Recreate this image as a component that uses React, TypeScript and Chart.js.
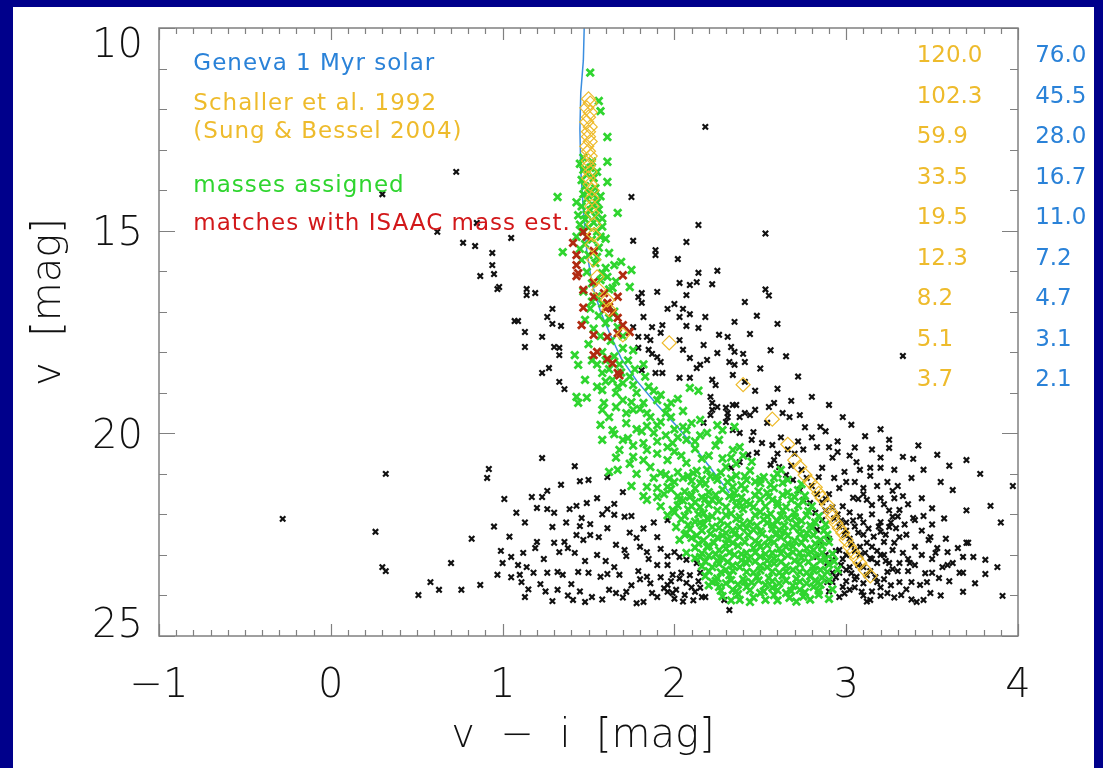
import React, { useEffect, useRef } from "react";
import { Chart, registerables } from "chart.js";

Chart.register(...registerables);

// ---------- axis ranges / tick labels ----------
const xMin = -1;
const xMax = 4;
const yMin = 10;
const yMax = 25;
const xTickValues = [-1, 0, 1, 2, 3, 4];
const xTickLabels = ["\u22121", "0", "1", "2", "3", "4"];
const yTickValues = [10, 15, 20, 25];
const yTickLabels = ["10", "15", "20", "25"];

// ---------- annotation texts ----------
const legendTexts = [
  "Geneva 1 Myr solar",
  "Schaller et al. 1992",
  "(Sung & Bessel 2004)",
  "masses assigned",
  "matches with ISAAC mass est.",
];
const schallerMasses = ["120.0", "102.3", "59.9", "33.5", "19.5", "12.3", "8.2", "5.1", "3.7"];
const genevaMasses = ["76.0", "45.5", "28.0", "16.7", "11.0", "7.2", "4.7", "3.1", "2.1"];

// ---------- Geneva 1 Myr isochrone (v-i, v) ----------
const genevaLine: [number, number][] = [
  [1.475, 10.0], [1.47, 10.8], [1.455, 11.6], [1.45, 12.5], [1.455, 13.5], [1.47, 14.5],
  [1.49, 15.5], [1.52, 16.3], [1.57, 17.0], [1.63, 17.6], [1.69, 18.15], [1.78, 18.7],
  [1.9, 19.3], [2.02, 19.85], [2.12, 20.36], [2.2, 20.8], [2.32, 21.47],
];

// ---------- Schaller et al. 1992 isochrone points ----------
const schallerPts: [number, number][] = [
  [1.5, 11.75], [1.51, 11.85], [1.49, 11.97], [1.51, 12.08], [1.5, 12.2], [1.49, 12.32],
  [1.51, 12.44], [1.5, 12.56], [1.5, 12.68], [1.51, 12.8], [1.49, 12.92], [1.5, 13.04],
  [1.51, 13.16], [1.5, 13.28], [1.5, 13.4], [1.51, 13.55], [1.5, 13.7], [1.51, 13.85],
  [1.52, 14.0], [1.52, 14.2], [1.52, 14.4], [1.52, 14.56], [1.53, 14.85], [1.53, 15.1],
  [1.52, 15.35], [1.53, 15.72], [1.55, 16.14], [1.56, 16.46], [1.61, 16.71], [1.62, 16.95],
  [1.7, 17.57], [1.97, 17.77], [2.4, 18.8], [2.57, 19.65], [2.66, 20.27], [2.7, 20.66],
  [2.73, 20.83], [2.76, 21.03], [2.79, 21.2], [2.82, 21.33], [2.84, 21.48], [2.86, 21.6],
  [2.89, 21.77], [2.91, 21.94], [2.92, 22.06], [2.94, 22.21], [2.96, 22.34], [2.98, 22.46],
  [3.0, 22.63], [3.02, 22.8], [3.04, 22.93], [3.06, 23.08], [3.08, 23.2], [3.11, 23.37],
  [3.14, 23.52],
];

// ---------- stars with matching ISAAC mass estimates ----------
const isaacMatches: [number, number][] = [
  [1.47, 15.03], [1.49, 15.15], [1.41, 15.3], [1.53, 15.5], [1.43, 15.6], [1.43, 15.85],
  [1.44, 16.05], [1.43, 16.12], [1.7, 16.1], [1.53, 16.27], [1.47, 16.46], [1.59, 16.54],
  [1.53, 16.63], [1.67, 16.63], [1.61, 16.78], [1.62, 16.88], [1.6, 16.92], [1.47, 16.9],
  [1.64, 17.03], [1.67, 17.15], [1.46, 17.33], [1.7, 17.33], [1.74, 17.5], [1.53, 17.57],
  [1.61, 17.62], [1.67, 17.53], [1.55, 17.99], [1.53, 18.07], [1.61, 18.17], [1.64, 18.27],
  [1.67, 18.51], [1.68, 18.57],
];

// ---------- stars with masses assigned ----------
const assignedStars: [number, number][] = [
  [1.51, 11.1], [1.56, 11.8], [1.57, 12.05], [1.61, 12.69], [1.61, 13.3], [1.61, 13.8],
  [1.45, 13.35], [1.47, 13.5], [1.49, 13.62], [1.51, 13.45], [1.53, 13.7], [1.48, 13.9],
  [1.5, 14.02], [1.53, 14.12], [1.55, 14.3], [1.49, 14.22], [1.46, 14.4], [1.51, 14.5],
  [1.56, 14.48], [1.44, 14.62], [1.48, 14.72], [1.53, 14.8], [1.5, 14.92], [1.46, 15.02],
  [1.55, 15.02], [1.58, 14.7], [1.32, 14.17], [1.67, 14.56], [1.57, 15.15], [1.52, 15.22],
  [1.48, 15.33], [1.56, 15.42], [1.35, 15.53], [1.5, 15.6], [1.46, 15.72], [1.54, 15.8],
  [1.69, 15.77], [1.65, 15.85], [1.6, 15.92], [1.75, 15.97], [1.49, 16.02], [1.61, 16.14],
  [1.57, 16.22], [1.52, 16.3], [1.74, 16.39], [1.64, 16.41], [1.47, 16.5], [1.55, 16.62],
  [1.62, 16.45], [1.58, 16.8], [1.51, 16.92], [1.65, 17.0], [1.56, 17.1], [1.48, 17.2],
  [1.6, 17.28], [1.53, 17.42], [1.67, 17.38], [1.57, 17.6], [1.63, 17.72], [1.5, 17.8],
  [1.7, 17.9], [1.58, 18.0], [1.42, 18.07], [1.65, 18.1], [1.73, 18.2], [1.55, 18.3],
  [1.44, 18.31], [1.62, 18.42], [1.58, 18.51], [1.69, 18.5], [1.77, 18.42], [1.48, 18.68],
  [1.64, 18.68], [1.7, 18.76], [1.76, 18.81], [1.6, 18.72], [1.67, 18.85], [1.58, 18.93],
  [1.78, 19.0], [1.66, 19.0], [2.09, 18.88], [2.14, 18.95], [1.43, 19.1], [1.49, 19.12],
  [1.7, 19.18], [1.75, 19.23], [1.82, 19.25], [1.9, 19.18], [1.59, 19.25], [1.44, 19.25],
  [1.96, 19.35], [1.58, 19.42], [1.76, 19.42], [1.72, 19.5], [1.86, 19.6], [1.98, 19.6],
  [2.15, 19.67], [1.92, 19.72], [1.57, 19.79], [2.05, 19.84], [2.35, 19.84], [2.28, 19.92],
  [1.64, 19.92], [1.78, 19.9], [1.81, 19.95], [2.07, 19.92], [1.88, 19.99], [1.65, 20.02],
  [2.19, 19.99], [2.07, 20.16], [1.58, 20.16], [1.7, 20.16], [1.73, 20.12], [2.26, 20.16],
  [1.82, 20.24], [1.99, 20.24], [1.96, 20.34], [2.38, 20.34], [1.68, 20.41], [1.84, 20.41],
  [2.34, 20.41], [1.76, 20.58], [1.82, 20.66], [1.96, 20.66], [2.07, 20.73], [2.3, 20.83],
  [1.86, 20.83], [1.67, 20.9], [1.62, 20.95], [2.19, 20.9], [1.92, 20.98], [2.11, 20.98],
  [2.25, 21.15], [2.42, 21.15], [2.15, 21.23], [2.5, 21.23], [1.84, 21.32], [1.96, 21.32],
  [2.34, 21.32], [2.54, 21.47], [1.9, 21.57], [1.82, 21.55], [2.09, 21.57], [2.03, 21.64],
  [1.84, 21.64], [2.22, 21.64], [2.57, 21.64], [2.38, 21.72], [2.15, 21.82], [2.3, 21.82],
  [2.46, 21.82], [2.65, 21.82], [1.99, 21.89], [2.15, 22.21], [2.54, 22.21], [2.01, 22.31],
  [2.22, 22.31], [2.38, 22.31], [2.69, 22.31], [2.46, 22.38], [2.61, 22.38], [2.07, 22.46],
  [2.3, 22.46], [2.77, 22.46], [2.03, 22.63], [2.34, 22.7], [2.19, 22.8], [2.5, 22.8],
  [2.65, 22.8], [2.26, 22.88], [2.81, 22.88], [2.07, 22.95], [2.42, 22.95], [2.57, 22.95],
  [2.73, 22.95], [2.15, 23.05], [2.22, 23.3], [2.38, 23.3], [2.54, 23.3], [2.3, 23.37],
  [2.69, 23.37], [2.85, 23.37], [2.46, 23.44], [2.61, 23.44], [2.77, 23.44], [2.22, 23.67],
  [2.26, 23.79], [2.42, 23.79], [2.57, 23.81], [2.81, 23.79], [2.34, 23.86], [2.73, 23.86],
  [2.5, 23.94], [2.65, 23.94], [2.67, 24.06], [2.38, 24.11], [2.53, 24.11],
  [1.95, 21.02], [2.02, 20.96], [2.08, 21.05], [2.13, 20.93], [2.21, 21.06], [2.27, 20.97],
  [2.36, 21.04], [2.44, 20.92], [2.52, 21.08], [2.6, 21.0],
  [1.98, 21.38], [2.06, 21.44], [2.12, 21.36], [2.2, 21.45], [2.28, 21.39], [2.35, 21.48],
  [2.41, 21.37], [2.49, 21.43], [2.58, 21.35], [2.66, 21.46], [2.72, 21.4],
  [2.0, 21.95], [2.08, 21.88], [2.17, 21.97], [2.25, 21.9], [2.33, 21.98], [2.4, 21.87],
  [2.5, 21.94], [2.56, 21.99], [2.63, 21.9], [2.7, 21.96], [2.78, 21.92],
  [2.04, 22.12], [2.12, 22.18], [2.19, 22.1], [2.27, 22.16], [2.36, 22.11], [2.44, 22.19],
  [2.52, 22.13], [2.6, 22.17], [2.66, 22.1], [2.74, 22.16], [2.82, 22.2],
  [2.1, 22.58], [2.17, 22.64], [2.25, 22.57], [2.31, 22.62], [2.38, 22.55], [2.47, 22.66],
  [2.55, 22.6], [2.62, 22.56], [2.7, 22.65], [2.76, 22.59], [2.85, 22.63],
  [2.12, 23.08], [2.2, 23.02], [2.28, 23.07], [2.35, 23.0], [2.43, 23.1], [2.5, 23.04],
  [2.58, 23.09], [2.66, 23.01], [2.74, 23.07], [2.82, 23.03], [2.88, 23.1],
  [2.18, 23.52], [2.25, 23.58], [2.32, 23.5], [2.4, 23.6], [2.48, 23.54], [2.55, 23.57],
  [2.63, 23.51], [2.71, 23.59], [2.79, 23.53], [2.86, 23.56],
  [2.28, 24.02], [2.37, 23.97], [2.46, 24.05], [2.58, 23.99], [2.75, 24.03], [2.84, 23.98],
  [2.0, 21.2], [2.1, 21.18], [2.18, 21.25], [2.31, 21.2], [2.39, 21.28], [2.47, 21.19],
  [2.56, 21.27], [2.63, 21.22],
  [2.05, 21.66], [2.12, 21.7], [2.18, 21.62], [2.26, 21.68], [2.34, 21.61], [2.42, 21.69],
  [2.5, 21.63], [2.6, 21.7], [2.68, 21.64], [2.75, 21.68],
  [2.09, 22.36], [2.16, 22.4], [2.26, 22.33], [2.34, 22.39], [2.42, 22.34], [2.5, 22.42],
  [2.57, 22.35], [2.64, 22.41], [2.73, 22.36], [2.8, 22.33], [2.87, 22.4],
  [2.12, 22.82], [2.2, 22.78], [2.3, 22.84], [2.37, 22.77], [2.46, 22.83], [2.54, 22.76],
  [2.61, 22.85], [2.69, 22.79], [2.77, 22.84], [2.86, 22.78],
  [2.16, 23.28], [2.26, 23.22], [2.34, 23.26], [2.42, 23.2], [2.5, 23.27], [2.58, 23.21],
  [2.65, 23.28], [2.73, 23.23], [2.81, 23.29], [2.9, 23.24],
  [2.2, 23.75], [2.3, 23.7], [2.37, 23.73], [2.45, 23.68], [2.53, 23.74], [2.61, 23.7],
  [2.69, 23.76], [2.77, 23.7], [2.85, 23.73],
  [1.66, 20.6], [1.74, 20.75], [1.9, 20.5], [2.0, 20.45], [2.12, 20.38], [2.2, 20.55],
  [2.28, 20.62], [2.45, 20.7], [2.4, 20.55], [1.95, 20.05], [2.02, 20.1], [2.12, 20.2],
  [1.72, 19.75], [1.84, 19.82], [2.0, 19.9], [2.24, 20.3], [1.62, 19.6], [1.55, 18.85],
  [1.52, 18.2], [1.83, 18.6], [1.88, 18.95], [1.8, 19.4], [1.95, 19.5], [2.05, 19.45],
  [1.97, 21.12], [2.05, 21.1], [2.16, 21.14], [2.24, 21.08], [2.33, 21.12], [2.41, 21.06],
  [2.5, 21.13], [2.58, 21.1],
  [1.94, 21.5], [2.02, 21.55], [2.1, 21.52], [2.16, 21.58], [2.24, 21.52], [2.32, 21.55],
  [2.39, 21.58], [2.47, 21.53], [2.55, 21.56], [2.63, 21.52], [2.7, 21.57], [2.76, 21.54],
  [2.02, 21.78], [2.1, 21.8], [2.2, 21.76], [2.36, 21.78], [2.44, 21.75], [2.53, 21.8],
  [2.6, 21.77], [2.72, 21.78], [2.8, 21.8],
  [1.96, 22.02], [2.06, 22.04], [2.14, 22.0], [2.22, 22.05], [2.3, 22.02], [2.38, 22.06],
  [2.47, 22.02], [2.54, 22.05], [2.62, 22.03], [2.7, 22.06], [2.77, 22.02], [2.84, 22.05],
  [2.08, 22.26], [2.17, 22.24], [2.31, 22.27], [2.4, 22.24], [2.48, 22.28], [2.57, 22.25],
  [2.64, 22.27], [2.71, 22.24], [2.79, 22.27], [2.88, 22.25],
  [2.06, 22.5], [2.13, 22.52], [2.21, 22.48], [2.28, 22.52], [2.35, 22.49], [2.43, 22.51],
  [2.51, 22.48], [2.59, 22.5], [2.66, 22.52], [2.73, 22.49], [2.81, 22.51], [2.89, 22.5],
  [2.14, 22.72], [2.23, 22.7], [2.3, 22.72], [2.41, 22.68], [2.49, 22.71], [2.58, 22.69],
  [2.66, 22.72], [2.74, 22.7], [2.82, 22.72], [2.9, 22.68],
  [2.16, 22.96], [2.24, 22.98], [2.32, 22.94], [2.39, 22.98], [2.47, 22.94], [2.53, 22.98],
  [2.62, 22.96], [2.69, 22.93], [2.78, 22.98], [2.86, 22.95], [2.92, 22.97],
  [2.18, 23.16], [2.25, 23.14], [2.31, 23.17], [2.39, 23.13], [2.47, 23.16], [2.54, 23.14],
  [2.62, 23.17], [2.7, 23.14], [2.78, 23.17], [2.85, 23.14], [2.93, 23.16],
  [2.2, 23.4], [2.27, 23.43], [2.34, 23.39], [2.42, 23.42], [2.5, 23.38], [2.57, 23.41],
  [2.65, 23.4], [2.73, 23.42], [2.81, 23.38], [2.89, 23.42], [2.95, 23.36],
  [2.24, 23.64], [2.33, 23.62], [2.41, 23.66], [2.49, 23.63], [2.57, 23.65], [2.65, 23.63],
  [2.73, 23.66], [2.82, 23.63], [2.9, 23.62],
  [2.27, 23.88], [2.36, 23.9], [2.44, 23.87], [2.52, 23.9], [2.6, 23.87], [2.68, 23.89],
  [2.76, 23.92], [2.84, 23.88], [2.92, 23.85],
  [2.33, 24.12], [2.44, 24.16], [2.6, 24.12], [2.71, 24.15], [2.79, 24.1], [2.9, 24.08],
  [1.47, 13.2], [1.52, 13.3], [1.55, 13.55], [1.46, 13.75], [1.54, 13.95], [1.57, 14.15],
  [1.47, 14.1], [1.43, 14.3], [1.52, 14.35], [1.49, 14.6], [1.54, 14.65], [1.45, 14.85],
  [1.58, 14.9], [1.43, 15.15], [1.6, 15.2], [1.45, 15.45], [1.62, 15.55], [1.55, 15.65],
  [1.58, 16.05], [1.66, 16.25], [1.52, 16.75], [1.62, 17.15], [1.7, 17.6], [1.76, 17.95],
  [1.82, 18.3], [1.6, 18.2], [1.68, 18.3], [1.74, 18.6], [1.85, 18.85], [1.92, 19.05],
  [1.98, 19.25], [2.02, 19.15], [1.66, 19.35], [1.84, 19.5], [1.9, 19.8], [2.1, 19.75],
  [2.25, 19.8], [2.15, 20.05], [1.76, 20.3], [1.9, 20.2], [2.04, 20.55], [2.16, 20.62],
  [2.33, 20.6], [2.36, 20.75], [1.78, 21.0], [1.88, 21.1], [1.75, 21.3], [1.9, 21.35],
  [1.92, 21.8], [2.62, 20.9], [2.66, 21.15], [2.74, 21.25],
];

// ---------- all other (field) stars ----------
const fieldStars: [number, number][] = [
  // upper, sparse
  [0.73, 13.55], [0.3, 14.1], [2.18, 12.44], [1.75, 14.17], [0.85, 14.81], [0.62, 15.03],
  [2.53, 15.07], [3.33, 18.09],
  // left diagonal band
  [0.77, 15.3], [0.84, 15.38], [0.94, 15.55], [0.94, 15.85], [0.87, 16.12], [0.95, 16.07],
  [0.98, 16.39], [0.97, 16.44], [1.14, 16.44], [1.14, 16.59], [1.19, 16.54], [1.05, 15.18],
  [1.29, 16.93], [1.26, 17.13], [1.07, 17.23], [1.09, 17.23], [1.13, 17.5], [1.29, 17.3],
  [1.34, 17.35], [1.23, 17.62], [1.13, 17.87], [1.3, 17.87], [1.33, 17.89], [1.33, 18.07],
  [1.27, 18.39], [1.23, 18.51], [1.33, 18.73], [1.36, 18.91],
  // right of the column, upper
  [2.14, 14.86], [2.07, 15.28], [1.76, 15.25], [1.89, 15.48], [1.89, 15.6], [2.02, 15.7],
  [2.14, 16.04], [2.25, 15.99], [2.03, 16.29], [2.09, 16.34], [2.13, 16.27], [2.22, 16.32],
  [1.81, 16.54], [1.9, 16.51], [1.79, 16.64], [2.07, 16.59], [1.81, 16.78], [2.41, 16.76],
  [1.96, 16.93], [2.0, 16.81], [2.05, 16.93], [1.82, 17.13], [2.03, 17.13], [2.09, 17.06],
  [2.18, 17.13], [2.35, 17.25], [1.76, 17.38], [1.87, 17.38], [1.93, 17.33], [2.07, 17.35],
  [2.14, 17.4], [2.26, 17.57], [2.31, 17.62], [1.79, 17.62], [1.84, 17.62], [1.86, 17.7],
  [1.92, 17.52], [1.79, 17.89], [1.85, 17.94], [1.87, 18.04], [1.9, 18.12], [1.92, 18.24],
  [2.03, 17.7], [2.05, 17.94], [2.09, 18.14], [2.17, 17.82], [2.25, 18.02], [2.33, 17.87],
  [2.35, 17.99], [2.4, 18.04], [2.32, 18.24], [2.19, 18.19], [2.15, 18.31], [2.13, 18.39],
  [2.35, 18.31], [2.41, 18.24], [1.81, 18.44], [1.89, 18.51], [1.93, 18.51], [2.03, 18.63],
  [2.09, 18.63], [2.22, 18.68], [2.24, 18.81], [2.34, 18.56], [2.41, 18.73], [2.21, 19.1],
  [2.22, 19.25], [2.25, 19.35], [2.3, 19.37], [2.36, 19.3], [2.31, 19.6], [2.38, 19.6],
  [2.3, 19.72], [2.41, 19.5], [2.34, 19.92], [2.38, 19.99],
  [2.53, 16.45], [2.55, 16.6], [2.48, 17.1], [2.6, 17.3], [2.44, 17.55], [2.56, 17.95],
  [2.65, 18.1], [2.5, 18.4], [2.72, 18.6], [2.6, 18.9], [2.8, 19.1], [2.68, 19.2],
  [2.9, 19.3], [2.47, 18.95], [2.55, 19.35],
  // right cluster
  [2.21, 19.55], [2.31, 19.5], [2.34, 19.3], [2.44, 19.55], [2.47, 19.42], [2.54, 19.74],
  [2.58, 19.25], [2.63, 19.5], [2.67, 19.6], [2.73, 19.55], [2.85, 19.84], [2.98, 19.6],
  [3.03, 19.79], [3.11, 20.07], [3.25, 20.16], [3.25, 20.36], [3.33, 20.58], [3.39, 20.63],
  [3.53, 20.53], [3.7, 20.66], [3.97, 21.3], [3.84, 21.79], [2.83, 20.34], [2.9, 20.34],
  [2.95, 20.46], [3.06, 20.71], [3.14, 20.85], [3.2, 20.85], [2.99, 20.95], [3.24, 21.2],
  [3.27, 21.42], [3.33, 21.55], [3.0, 21.2], [2.96, 21.35], [3.1, 21.35], [3.04, 21.59],
  [3.07, 21.62], [3.12, 21.64], [3.15, 21.77], [3.31, 21.89], [3.4, 22.14], [3.45, 22.04],
  [3.49, 22.56], [3.48, 22.63], [3.53, 22.83], [3.59, 22.93], [3.59, 23.25], [3.65, 22.83],
  [3.68, 23.05], [3.7, 22.7], [3.74, 23.05], [3.68, 23.44], [3.81, 23.12], [3.81, 23.47],
  [3.68, 23.91], [3.91, 24.01], [3.5, 23.44], [3.54, 23.57], [3.47, 23.67], [3.43, 23.74],
  [3.49, 23.94], [3.41, 24.16], [3.45, 24.11], [3.31, 23.67], [3.38, 23.67], [3.32, 23.99],
  [3.24, 23.94], [3.14, 24.11], [3.2, 24.01], [3.09, 23.91], [3.02, 23.86], [2.96, 24.04],
  [3.06, 23.54], [3.18, 23.67], [3.24, 23.42], [3.25, 23.2], [3.31, 23.2], [3.37, 23.2],
  [3.27, 22.88], [3.22, 22.68], [3.31, 22.56], [3.29, 22.34], [3.25, 22.31], [3.2, 22.19],
  [3.27, 22.06], [3.2, 22.43], [3.15, 22.8], [3.14, 23.08], [3.2, 23.0], [2.96, 22.88],
  [2.92, 23.12], [2.89, 23.2], [2.92, 23.44], [2.96, 23.44], [3.0, 23.37], [2.92, 23.67],
  [2.98, 23.79], [2.89, 23.67], [2.83, 23.05], [2.85, 22.7], [2.83, 22.38], [2.86, 22.14],
  [2.82, 21.96], [2.79, 21.72], [2.75, 21.64], [2.73, 21.4], [2.69, 21.15], [2.65, 21.03],
  [2.61, 20.83], [2.58, 20.66], [2.56, 20.78], [2.57, 20.29], [2.51, 20.24], [2.48, 20.48],
  [2.45, 20.16], [2.46, 19.97], [2.43, 20.53], [2.38, 20.71], [2.33, 20.85], [2.22, 19.42],
  [2.17, 19.74], [2.29, 24.11], [2.32, 24.36], [2.15, 23.44], [2.18, 24.04], [3.39, 22.09],
  [3.52, 22.95], [3.66, 23.44], [3.71, 22.7],
  [2.62, 20.1], [2.66, 20.4], [2.7, 20.5], [2.74, 20.9], [2.77, 21.1], [2.8, 21.3],
  [2.83, 21.5], [2.86, 21.7], [2.88, 21.9], [2.93, 22.1], [2.96, 22.3], [2.99, 22.5],
  [3.02, 22.6], [3.05, 22.9], [3.08, 23.0], [3.1, 23.3], [3.12, 23.5], [2.95, 22.0],
  [3.0, 22.2], [3.05, 22.3], [3.1, 22.5], [3.12, 22.7], [2.9, 22.6], [2.94, 22.9],
  [2.98, 23.1], [3.02, 23.3], [3.05, 23.6], [2.88, 23.0], [3.15, 23.9], [3.2, 23.8],
  [3.18, 23.2], [3.22, 23.0], [3.28, 22.7], [3.35, 22.5], [3.4, 22.8], [3.36, 23.1],
  [3.3, 23.4], [2.98, 21.8], [3.02, 21.95], [3.08, 22.05], [3.15, 22.0], [3.2, 21.6],
  [3.25, 21.9], [3.18, 21.3], [2.9, 21.5], [2.68, 20.8], [2.72, 20.2], [2.6, 20.5],
  [2.75, 20.4],
  [2.88, 21.62], [2.92, 21.82], [2.97, 22.15], [3.0, 22.4], [3.04, 22.15], [3.07, 22.45],
  [3.1, 22.2], [3.13, 22.35], [3.16, 22.55], [3.19, 22.3], [3.23, 22.5], [3.26, 22.2],
  [3.03, 22.75], [3.08, 22.8], [3.11, 22.95], [3.15, 23.1], [3.18, 22.9], [3.23, 23.15],
  [3.27, 23.35], [3.33, 22.95], [3.36, 23.4], [3.4, 23.25], [3.44, 23.0], [3.46, 23.45],
  [3.0, 23.0], [2.97, 23.25], [3.03, 23.45], [3.07, 23.25], [3.1, 23.7], [3.14, 23.4],
  [3.17, 23.55], [3.22, 23.6], [3.26, 23.75], [3.28, 24.05], [3.35, 23.85], [3.38, 24.1],
  [3.0, 23.65], [3.05, 23.8], [3.1, 24.0], [3.12, 24.15], [2.94, 23.55], [2.9, 23.9],
  [2.99, 23.95], [3.5, 23.1], [3.56, 23.3], [3.6, 23.65], [3.55, 24.0], [3.62, 23.2],
  [3.75, 23.7], [3.88, 23.3], [3.44, 22.4], [3.5, 22.25], [3.58, 22.6], [3.34, 22.25],
  [3.3, 22.05], [3.36, 21.75], [3.44, 21.6], [3.5, 21.85], [3.57, 22.1], [3.62, 21.4],
  [3.7, 21.9], [3.3, 21.3], [3.38, 21.1], [3.2, 20.6], [3.28, 20.9], [3.45, 20.9],
  [3.55, 21.2], [3.14, 21.05], [3.08, 20.9], [3.02, 20.55], [2.92, 20.6], [2.86, 20.85],
  [2.84, 21.08], [2.93, 21.1], [3.05, 21.2], [3.1, 21.5], [3.22, 21.75], [3.28, 21.6],
  [2.8, 20.1], [2.88, 19.95], [2.95, 20.2], [3.05, 20.35], [3.15, 20.4], [2.76, 19.85],
  [3.2, 19.9], [3.42, 20.3], [3.6, 20.8], [3.78, 21.0], [3.9, 22.2],
  // lower left
  [1.23, 20.61], [1.42, 20.81], [1.45, 21.18], [1.5, 21.15], [1.61, 21.08], [1.34, 21.27],
  [1.01, 21.62], [1.17, 21.57], [1.23, 21.57], [1.26, 21.42], [1.7, 21.45], [1.08, 21.96],
  [1.2, 21.84], [1.26, 21.87], [1.3, 21.96], [1.39, 21.87], [1.43, 21.79], [1.49, 21.72],
  [1.61, 21.87], [1.65, 21.74], [1.65, 22.01], [1.71, 22.06], [1.75, 22.04], [1.46, 22.09],
  [1.51, 22.24], [1.45, 22.29], [1.29, 22.31], [1.61, 22.34], [1.43, 22.51], [1.51, 22.51],
  [1.56, 22.56], [1.96, 22.14], [1.2, 22.68], [1.36, 22.68], [1.47, 22.63], [1.78, 22.58],
  [1.9, 22.56], [1.33, 22.93], [1.38, 22.83], [1.19, 22.83], [1.55, 23.0], [1.71, 22.88],
  [1.72, 23.03], [1.8, 22.8], [1.84, 22.93], [1.09, 23.25], [1.14, 23.3], [1.18, 23.44],
  [1.26, 23.44], [1.32, 23.42], [1.35, 23.49], [1.4, 23.72], [1.44, 23.42], [1.5, 23.44],
  [1.57, 23.54], [1.61, 23.47], [1.65, 23.3], [1.68, 23.49], [1.79, 23.4], [1.84, 23.54],
  [1.9, 23.25], [1.96, 23.03], [2.0, 22.93], [1.96, 23.25], [2.03, 23.05], [2.07, 23.12],
  [2.13, 23.2], [1.99, 23.49], [2.04, 23.44], [2.07, 23.69], [1.96, 23.74], [2.01, 23.86],
  [2.06, 23.99], [2.12, 23.91], [2.16, 24.04], [1.1, 23.49], [1.11, 23.67], [1.22, 23.72],
  [1.32, 23.86], [1.29, 24.14], [1.41, 24.11], [1.48, 24.16], [1.52, 24.04], [1.62, 23.86],
  [1.66, 23.94], [1.72, 23.91], [1.78, 24.19], [1.82, 24.16], [1.87, 23.94], [1.96, 23.91],
  [1.9, 24.04], [2.15, 23.81], [1.99, 23.94], [1.13, 24.04],
  [1.92, 23.55], [1.98, 23.65], [2.03, 23.58], [2.09, 23.5], [2.1, 23.8], [2.14, 23.65],
  [1.94, 23.82], [2.0, 24.08], [2.05, 24.15], [2.11, 24.12], [1.86, 23.7], [1.8, 23.6],
  [1.75, 23.75], [1.7, 24.05], [1.58, 24.1], [1.45, 23.9], [1.38, 24.0], [1.25, 23.9],
  [1.15, 23.85], [1.05, 23.55], [1.0, 23.2], [1.12, 22.95], [1.24, 23.1], [1.3, 22.7],
  [1.42, 22.95], [1.48, 23.15], [1.6, 23.15], [1.66, 22.75], [1.74, 22.45], [1.82, 22.35],
  [1.88, 22.2], [1.58, 22.0], [1.55, 21.6], [1.37, 22.2], [1.13, 22.2], [1.04, 22.55],
  [0.99, 22.9], [1.85, 23.1], [1.92, 22.85],
  // far left
  [-0.28, 22.11], [0.32, 21.0], [0.26, 22.43], [0.3, 23.3], [0.32, 23.4], [0.92, 20.88],
  [0.91, 21.1], [0.58, 23.67], [0.51, 23.99], [0.63, 23.86], [0.76, 23.86], [0.87, 23.74],
  [0.97, 23.49], [1.05, 23.05], [0.82, 22.6], [0.7, 23.2], [0.95, 22.3],
];

const toXY = (arr: [number, number][]) => arr.map(([x, y]) => ({ x, y }));

const NAVY = "#00008b";
const BLUE = "#2a82d8";
const YELLOW = "#eebb2c";
const GREEN = "#2fd52f";
const RED = "#d2181a";
const FONT = '"DejaVu Sans", "Liberation Sans", sans-serif';

const framePlugin = {
  id: "idlFrame",
  beforeDraw(chart: any) {
    const ctx = chart.ctx as CanvasRenderingContext2D;
    ctx.save();
    ctx.fillStyle = NAVY;
    ctx.fillRect(0, 0, chart.width, chart.height);
    ctx.fillStyle = "#ffffff";
    ctx.fillRect(13, 7, 1081, chart.height - 7);
    ctx.restore();
  },
  afterDatasetsDraw(chart: any) {
    const ctx = chart.ctx as CanvasRenderingContext2D;
    const { left, right, top, bottom } = chart.chartArea;
    const xs = chart.scales.x;
    const ys = chart.scales.y;
    ctx.save();
    // box
    ctx.strokeStyle = "#808080";
    ctx.lineWidth = 1.5;
    ctx.strokeRect(left, top, right - left, bottom - top);
    ctx.beginPath();
    // x ticks
    for (let i = 0; i <= 50; i++) {
      const v = xMin + i * 0.1;
      const px = Math.round(xs.getPixelForValue(v)) + 0.5;
      const len = i % 10 === 0 ? 12 : 6;
      ctx.moveTo(px, bottom);
      ctx.lineTo(px, bottom - len);
      ctx.moveTo(px, top);
      ctx.lineTo(px, top + len);
    }
    // y ticks
    for (let v = yMin; v <= yMax; v++) {
      const py = Math.round(ys.getPixelForValue(v)) + 0.5;
      const len = v % 5 === 0 ? 16 : 8;
      ctx.moveTo(left, py);
      ctx.lineTo(left + len, py);
      ctx.moveTo(right, py);
      ctx.lineTo(right - len, py);
    }
    ctx.lineWidth = 1.2;
    ctx.stroke();

    // tick labels
    ctx.fillStyle = "#111";
    ctx.font = `200 40px ${FONT}`;
    ctx.textBaseline = "alphabetic";
    ctx.textAlign = "center";
    xTickValues.forEach((v, i) => {
      ctx.fillText(xTickLabels[i], xs.getPixelForValue(v), bottom + 61);
    });
    ctx.textAlign = "right";
    yTickValues.forEach((v, i) => {
      let py = ys.getPixelForValue(v) + 14.5;
      if (i === 0) py = top + 29;
      if (i === yTickValues.length - 1) py = bottom + 1;
      ctx.fillText(yTickLabels[i], left - 16, py);
    });

    // axis titles
    ctx.textAlign = "center";
    ctx.fillText("v  \u2212  i  [mag]", 583, bottom + 111);
    ctx.save();
    ctx.translate(60, 302);
    ctx.rotate(-Math.PI / 2);
    ctx.fillText("v  [mag]", 0, 0);
    ctx.restore();

    // legend-style annotations inside plot
    ctx.font = `23px ${FONT}`;
    ctx.textAlign = "left";
    (ctx as any).letterSpacing = "1px";
    const legendColors = [BLUE, YELLOW, YELLOW, GREEN, RED];
    const legendY = [11.04, 12.02, 12.71, 14.05, 14.98];
    legendTexts.forEach((t, i) => {
      ctx.fillStyle = legendColors[i];
      ctx.fillText(t, xs.getPixelForValue(-0.8), ys.getPixelForValue(legendY[i]));
    });
    (ctx as any).letterSpacing = "0px";

    // mass columns
    schallerMasses.forEach((t, i) => {
      const py = ys.getPixelForValue(10.84 + i);
      ctx.fillStyle = YELLOW;
      ctx.fillText(t, xs.getPixelForValue(3.41), py);
      ctx.fillStyle = BLUE;
      ctx.fillText(genevaMasses[i], xs.getPixelForValue(4.1), py);
    });
    ctx.restore();
  },
};

export default function App() {
  const canvasRef = useRef<HTMLCanvasElement | null>(null);

  useEffect(() => {
    const canvas = canvasRef.current;
    if (!canvas) return;
    const chart = new Chart(canvas, {
      type: "scatter",
      data: {
        datasets: [
          {
            label: "Schaller et al. 1992",
            data: toXY(schallerPts),
            pointStyle: "rectRot",
            pointRadius: 7,
            borderColor: YELLOW,
            backgroundColor: "rgba(0,0,0,0)",
            borderWidth: 1.2,
            showLine: false,
          },
          {
            label: "ISAAC matches",
            data: toXY(isaacMatches),
            pointStyle: "crossRot",
            pointRadius: 5.2,
            borderColor: "#b02a10",
            backgroundColor: "#b02a10",
            borderWidth: 2.8,
          },
          {
            label: "masses assigned",
            data: toXY(assignedStars),
            pointStyle: "crossRot",
            pointRadius: 5.2,
            borderColor: GREEN,
            backgroundColor: GREEN,
            borderWidth: 2.8,
          },
          {
            label: "field",
            data: toXY(fieldStars),
            pointStyle: "crossRot",
            pointRadius: 3.8,
            borderColor: "#111111",
            backgroundColor: "#111111",
            borderWidth: 2.2,
          },
          {
            label: "Geneva 1 Myr solar",
            data: toXY(genevaLine),
            showLine: true,
            pointRadius: 0,
            borderColor: "#3a8ee0",
            borderWidth: 1.5,
            tension: 0,
          },
        ],
      },
      options: {
        responsive: false,
        animation: false,
        devicePixelRatio: 1,
        layout: { padding: { left: 159, right: 85, top: 28, bottom: 132 } },
        scales: {
          x: { type: "linear", min: xMin, max: xMax, display: false },
          y: { type: "linear", min: yMin, max: yMax, reverse: true, display: false },
        },
        plugins: { legend: { display: false }, tooltip: { enabled: false } },
        events: [],
      },
      plugins: [framePlugin],
    });
    return () => chart.destroy();
  }, []);

  return (
    <div style={{ position: "fixed", left: 0, top: 0, width: 1103, height: 768 }}>
      <canvas ref={canvasRef} width={1103} height={768} style={{ display: "block" }} />
    </div>
  );
}
